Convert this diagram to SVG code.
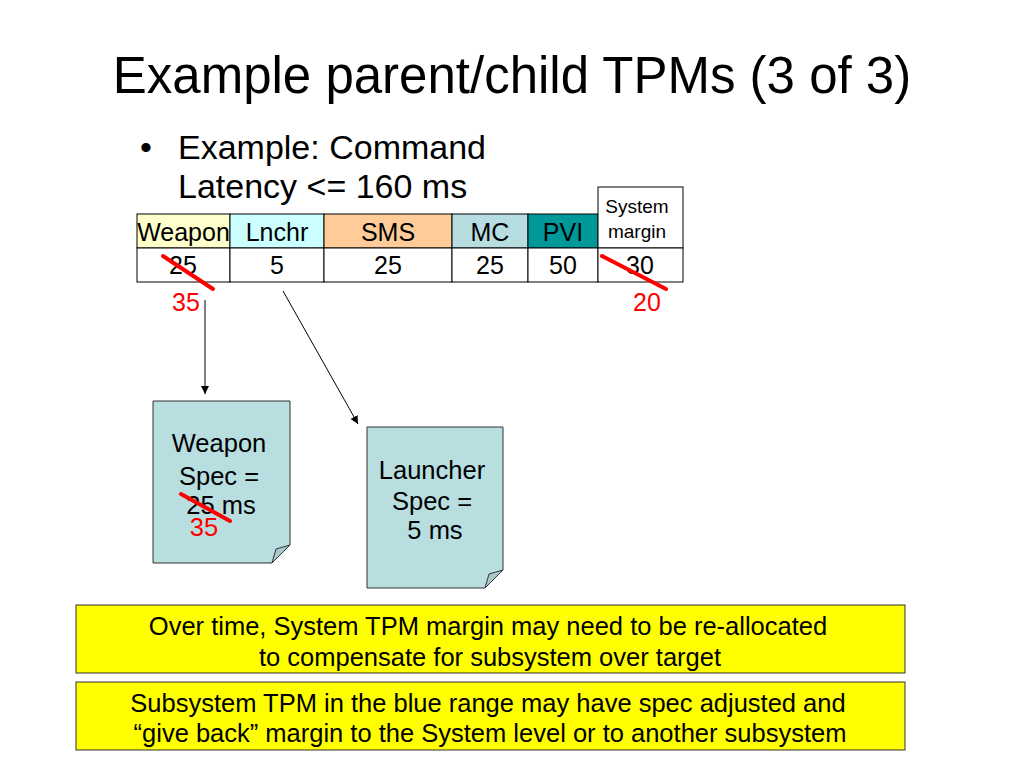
<svg xmlns="http://www.w3.org/2000/svg" width="1024" height="768" viewBox="0 0 1024 768">
<defs>
<style>
text{font-family:"Liberation Sans",Arial,sans-serif;fill:#000}
.cell{stroke:#000;stroke-width:1}
.tc{font-size:25px;text-anchor:middle}
.red{fill:#ff0000}
.strike{stroke:#ff0000;stroke-width:4;stroke-linecap:round}
.doc{fill:#b8dee0;stroke:#333;stroke-width:1}
.fold{fill:#a9c9cc;stroke:#333;stroke-width:1}
.dt{font-size:25.5px;text-anchor:middle}
.yb{fill:#ffff00;stroke:#333;stroke-width:1}
.yt{font-size:25.5px;text-anchor:middle}
.conn{stroke:#000;stroke-width:1;fill:none;marker-end:url(#ah)}
</style>
<marker id="ah" viewBox="0 0 10 10" refX="10" refY="5" markerWidth="8" markerHeight="8" orient="auto" markerUnits="userSpaceOnUse"><path d="M0,0 L10,5 L0,10 z" fill="#000"/></marker>
</defs>
<rect width="1024" height="768" fill="#fff"/>
<text x="512" y="93" style="font-size:51px" text-anchor="middle">Example parent/child TPMs (3 of 3)</text>
<text x="140" y="159" style="font-size:34px">•</text>
<text x="178" y="159" style="font-size:34px">Example: Command</text>
<text x="178" y="198" style="font-size:34px">Latency &lt;= 160 ms</text>

<g id="table">
<rect class="cell" x="137" y="214" width="93" height="34" fill="#ffffcc"/>
<rect class="cell" x="230" y="214" width="94" height="34" fill="#ccffff"/>
<rect class="cell" x="324" y="214" width="128" height="34" fill="#ffcc99"/>
<rect class="cell" x="452" y="214" width="76" height="34" fill="#b7dde0"/>
<rect class="cell" x="528" y="214" width="70" height="34" fill="#009999"/>
<rect class="cell" x="598" y="187" width="85" height="61" fill="#ffffff"/>
<rect class="cell" x="137" y="248" width="93" height="34" fill="#fff"/>
<rect class="cell" x="230" y="248" width="94" height="34" fill="#fff"/>
<rect class="cell" x="324" y="248" width="128" height="34" fill="#fff"/>
<rect class="cell" x="452" y="248" width="76" height="34" fill="#fff"/>
<rect class="cell" x="528" y="248" width="70" height="34" fill="#fff"/>
<rect class="cell" x="598" y="248" width="85" height="34" fill="#fff"/>
<text class="tc" x="183.5" y="241">Weapon</text>
<text class="tc" x="277" y="241">Lnchr</text>
<text class="tc" x="388" y="241">SMS</text>
<text class="tc" x="490" y="241">MC</text>
<text class="tc" x="563" y="241">PVI</text>
<text x="637" y="213" style="font-size:19px" text-anchor="middle">System</text>
<text x="637" y="238" style="font-size:19px" text-anchor="middle">margin</text>
<text class="tc" x="183" y="274">25</text>
<text class="tc" x="277" y="274">5</text>
<text class="tc" x="388" y="274">25</text>
<text class="tc" x="490" y="274">25</text>
<text class="tc" x="563" y="274">50</text>
<text class="tc" x="640" y="274">30</text>
<line class="strike" x1="163" y1="256" x2="213" y2="289"/>
<line class="strike" x1="602" y1="256" x2="666" y2="289"/>
<text class="tc red" x="186" y="311">35</text>
<text class="tc red" x="647" y="311">20</text>
</g>

<g id="connectors">
<line class="conn" x1="205" y1="300" x2="205" y2="394"/>
<line class="conn" x1="283" y1="291" x2="358" y2="424"/>
</g>

<g id="weapon-spec">
<path class="doc" d="M153,401 H290 V545 L272,563 H153 Z"/>
<path class="fold" d="M272,563 L276,549 L290,545 Z"/>
<text class="dt" x="219" y="452">Weapon</text>
<text class="dt" x="219" y="485">Spec =</text>
<text class="dt" x="221" y="514">25 ms</text>
<line class="strike" x1="181" y1="494" x2="230" y2="521"/>
<text class="dt red" x="204" y="536">35</text>
</g>

<g id="launcher-spec">
<path class="doc" d="M367,427 H503 V570 L485,588 H367 Z"/>
<path class="fold" d="M485,588 L489,574 L503,570 Z"/>
<text class="dt" x="432" y="479">Launcher</text>
<text class="dt" x="432" y="510">Spec =</text>
<text class="dt" x="435" y="539">5 ms</text>
</g>

<g id="note1">
<rect class="yb" x="76" y="605" width="829" height="68"/>
<text class="yt" x="488" y="635">Over time, System TPM margin may need to be re-allocated</text>
<text class="yt" x="490" y="666">to compensate for subsystem over target</text>
</g>
<g id="note2">
<rect class="yb" x="76" y="682" width="829" height="68"/>
<text class="yt" x="488" y="712">Subsystem TPM in the blue range may have spec adjusted and</text>
<text class="yt" x="490" y="742">“give back” margin to the System level or to another subsystem</text>
</g>
</svg>
